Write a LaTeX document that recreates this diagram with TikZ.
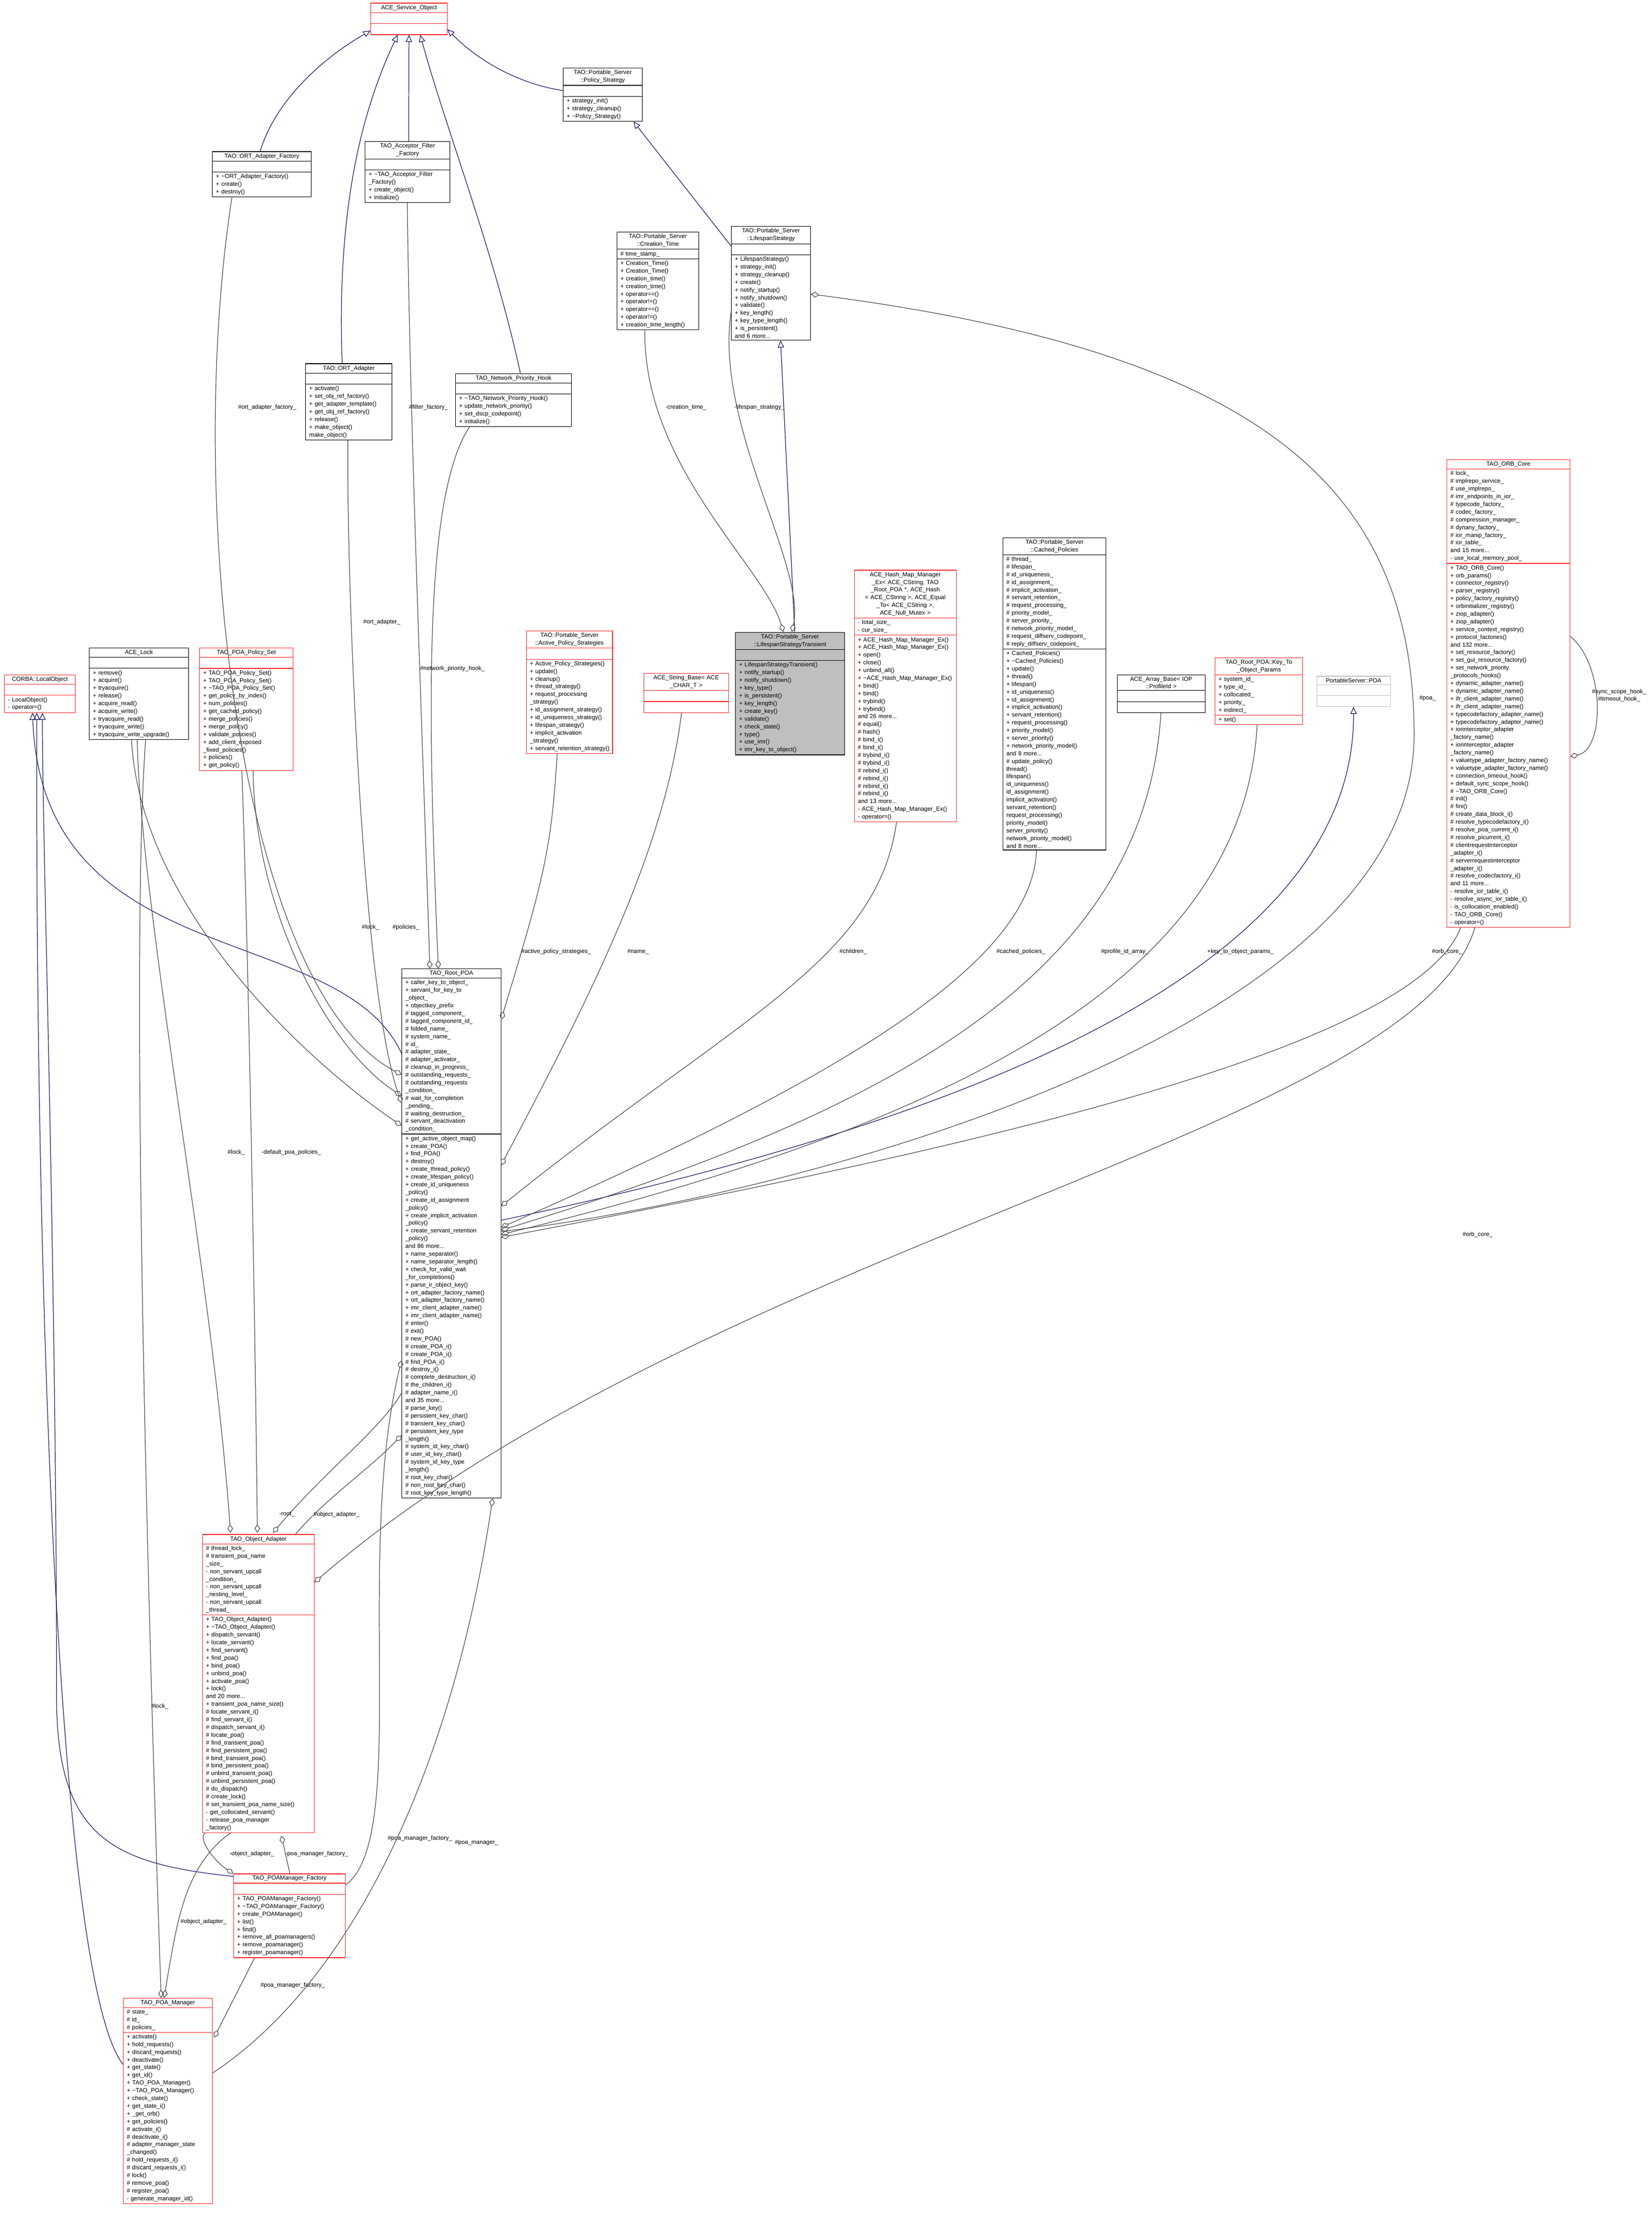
\documentclass[tikz,border=0pt]{standalone}
\usepackage{fontspec}
\newfontfamily\cf{Liberation Sans}
\usetikzlibrary{shapes.multipart,arrows.meta,calc}
\definecolor{navy}{RGB}{25,25,112}
\definecolor{lgrey}{RGB}{191,191,191}
\definecolor{boxred}{RGB}{255,40,40}
\hyphenpenalty=10000
\exhyphenpenalty=10000
\tikzset{
 cls/.style={draw, rectangle split, rectangle split parts=3, anchor=north west, inner xsep=2.5pt, inner ysep=1.2pt,
   font=\cf\fontsize{4.2}{5.45}\selectfont, align=left, text width=#1-5pt, line width=0.4pt},
 rc/.style={draw=boxred},
 bc/.style={draw=black},
 inh/.style={draw=navy, line width=0.45pt, -{Triangle[open,length=5pt,width=4.5pt]}},
 agg/.style={draw=black!70, line width=0.45pt, {Diamond[open,length=6pt,width=4pt]}-},
 lbl/.style={font=\cf\fontsize{4.2}{5.1}\selectfont, inner sep=0.5pt, align=center}
}
\newcommand\E{\rule{0pt}{5pt}}
\newcommand\cls[8]{\node[cls=#4pt,#5] (#1) at (#2,#3) {\hyphenpenalty=10000 {\centering #6\par}\nodepart{two}#7\nodepart{three}\hyphenpenalty=10000 #8};}
\begin{document}
\begin{tikzpicture}[x=1pt,y=-1pt]
\useasboundingbox (0,0) rectangle (1168,1570);
\fill[white] (0,0) rectangle (1168,1570);
% ---- nodes
\cls{aso}{262}{2}{54}{rc}{ACE\_Service\_Object}{\E}{\E}
\cls{ps}{398}{48}{56}{bc}{TAO::Portable\_Server\\::Policy\_Strategy}{\E}{+ strategy\_init()\\+ strategy\_cleanup()\\+ \textasciitilde Policy\_Strategy()}
\cls{ortf}{150}{107}{70}{bc}{TAO::ORT\_Adapter\_Factory}{\E}{+ \textasciitilde ORT\_Adapter\_Factory()\\+ create()\\+ destroy()}
\cls{aff}{258}{100}{60}{bc}{TAO\_Acceptor\_Filter\\\_Factory}{\E}{+ \textasciitilde TAO\_Acceptor\_Filter\\\_Factory()\\+ create\_object()\\+ initialize()}
\cls{ct}{436}{164}{58}{bc}{TAO::Portable\_Server\\::Creation\_Time}{\# time\_stamp\_}{+ Creation\_Time()\\+ Creation\_Time()\\+ creation\_time()\\+ creation\_time()\\+ operator==()\\+ operator!=()\\+ operator==()\\+ operator!=()\\+ creation\_time\_length()}
\cls{ls}{517}{160}{56}{bc}{TAO::Portable\_Server\\::LifespanStrategy}{\E}{+ LifespanStrategy()\\+ strategy\_init()\\+ strategy\_cleanup()\\+ create()\\+ notify\_startup()\\+ notify\_shutdown()\\+ validate()\\+ key\_length()\\+ key\_type\_length()\\+ is\_persistent()\\and 6 more...}
\cls{orta}{216}{257}{61}{bc}{TAO::ORT\_Adapter}{\E}{+ activate()\\+ set\_obj\_ref\_factory()\\+ get\_adapter\_template()\\+ get\_obj\_ref\_factory()\\+ release()\\+ make\_object()\\* make\_object()}
\cls{nph}{322}{264}{82}{bc}{TAO\_Network\_Priority\_Hook}{\E}{+ \textasciitilde TAO\_Network\_Priority\_Hook()\\+ update\_network\_priority()\\+ set\_dscp\_codepoint()\\+ initialize()}
\cls{orb}{1023}{325}{87}{rc}{TAO\_ORB\_Core}{\# lock\_\\\# implrepo\_service\_\\\# use\_implrepo\_\\\# imr\_endpoints\_in\_ior\_\\\# typecode\_factory\_\\\# codec\_factory\_\\\# compression\_manager\_\\\# dynany\_factory\_\\\# ior\_manip\_factory\_\\\# ior\_table\_\\and 15 more...\\- use\_local\_memory\_pool\_}{+ TAO\_ORB\_Core()\\+ orb\_params()\\+ connector\_registry()\\+ parser\_registry()\\+ policy\_factory\_registry()\\+ orbinitializer\_registry()\\+ ziop\_adapter()\\+ ziop\_adapter()\\+ service\_context\_registry()\\+ protocol\_factories()\\and 132 more...\\+ set\_resource\_factory()\\+ set\_gui\_resource\_factory()\\+ set\_network\_priority\\\_protocols\_hooks()\\+ dynamic\_adapter\_name()\\+ dynamic\_adapter\_name()\\+ ifr\_client\_adapter\_name()\\+ ifr\_client\_adapter\_name()\\+ typecodefactory\_adapter\_name()\\+ typecodefactory\_adapter\_name()\\+ iorinterceptor\_adapter\\\_factory\_name()\\+ iorinterceptor\_adapter\\\_factory\_name()\\+ valuetype\_adapter\_factory\_name()\\+ valuetype\_adapter\_factory\_name()\\+ connection\_timeout\_hook()\\+ default\_sync\_scope\_hook()\\\# \textasciitilde TAO\_ORB\_Core()\\\# init()\\\# fini()\\\# create\_data\_block\_i()\\\# resolve\_typecodefactory\_i()\\\# resolve\_poa\_current\_i()\\\# resolve\_picurrent\_i()\\\# clientrequestinterceptor\\\_adapter\_i()\\\# serverrequestinterceptor\\\_adapter\_i()\\\# resolve\_codecfactory\_i()\\and 11 more...\\- resolve\_ior\_table\_i()\\- resolve\_async\_ior\_table\_i()\\- is\_collocation\_enabled()\\- TAO\_ORB\_Core()\\- operator=()}
\cls{lst}{520}{447}{77}{bc,fill=lgrey}{TAO::Portable\_Server\\::LifespanStrategyTransient}{\E}{+ LifespanStrategyTransient()\\+ notify\_startup()\\+ notify\_shutdown()\\+ key\_type()\\+ is\_persistent()\\+ key\_length()\\+ create\_key()\\+ validate()\\+ check\_state()\\+ type()\\+ use\_imr()\\+ imr\_key\_to\_object()}
\cls{hm}{604}{403}{72}{rc}{ACE\_Hash\_Map\_Manager\\\_Ex< ACE\_CString, TAO\\\_Root\_POA *, ACE\_Hash\\< ACE\_CString >, ACE\_Equal\\\_To< ACE\_CString >, ACE\_Null\_Mutex >}{- total\_size\_\\- cur\_size\_}{+ ACE\_Hash\_Map\_Manager\_Ex()\\+ ACE\_Hash\_Map\_Manager\_Ex()\\+ open()\\+ close()\\+ unbind\_all()\\+ \textasciitilde ACE\_Hash\_Map\_Manager\_Ex()\\+ bind()\\+ bind()\\+ trybind()\\+ trybind()\\and 26 more...\\\# equal()\\\# hash()\\\# bind\_i()\\\# bind\_i()\\\# trybind\_i()\\\# trybind\_i()\\\# rebind\_i()\\\# rebind\_i()\\\# rebind\_i()\\\# rebind\_i()\\and 13 more...\\- ACE\_Hash\_Map\_Manager\_Ex()\\- operator=()}
\cls{cp}{709}{380}{73}{bc}{TAO::Portable\_Server\\::Cached\_Policies}{\# thread\_\\\# lifespan\_\\\# id\_uniqueness\_\\\# id\_assignment\_\\\# implicit\_activation\_\\\# servant\_retention\_\\\# request\_processing\_\\\# priority\_model\_\\\# server\_priority\_\\\# network\_priority\_model\_\\\# request\_diffserv\_codepoint\_\\\# reply\_diffserv\_codepoint\_}{+ Cached\_Policies()\\+ \textasciitilde Cached\_Policies()\\+ update()\\+ thread()\\+ lifespan()\\+ id\_uniqueness()\\+ id\_assignment()\\+ implicit\_activation()\\+ servant\_retention()\\+ request\_processing()\\+ priority\_model()\\+ server\_priority()\\+ network\_priority\_model()\\and 8 more...\\\# update\_policy()\\* thread()\\* lifespan()\\* id\_uniqueness()\\* id\_assignment()\\* implicit\_activation()\\* servant\_retention()\\* request\_processing()\\* priority\_model()\\* server\_priority()\\* network\_priority\_model()\\and 8 more...}
\cls{aps}{372}{446}{61}{rc}{TAO::Portable\_Server\\::Active\_Policy\_Strategies}{\E}{+ Active\_Policy\_Strategies()\\+ update()\\+ cleanup()\\+ thread\_strategy()\\+ request\_processing\\\_strategy()\\+ id\_assignment\_strategy()\\+ id\_uniqueness\_strategy()\\+ lifespan\_strategy()\\+ implicit\_activation\\\_strategy()\\\mbox{+ servant\_retention\_strategy()}}
\cls{sb}{455}{476}{60}{rc}{ACE\_String\_Base< ACE\\\_CHAR\_T >}{\E}{\E}
\cls{ab}{790}{477}{62}{bc}{ACE\_Array\_Base< IOP\\::ProfileId >}{\E}{\E}
\cls{kto}{859}{465}{62}{rc}{TAO\_Root\_POA::Key\_To\\\_Object\_Params}{+ system\_id\_\\+ type\_id\_\\+ collocated\_\\+ priority\_\\+ indirect\_}{+ set()}
\cls{pspoa}{931}{478}{52}{draw=lgrey}{PortableServer::POA}{\E}{\E}
\cls{clo}{3}{477}{50}{rc}{CORBA::LocalObject}{\E}{- LocalObject()\\- operator=()}
\cls{lock}{63}{458}{70}{bc}{ACE\_Lock}{\E}{+ remove()\\+ acquire()\\+ tryacquire()\\+ release()\\+ acquire\_read()\\+ acquire\_write()\\+ tryacquire\_read()\\+ tryacquire\_write()\\+ tryacquire\_write\_upgrade()}
\cls{pps}{141}{458}{66}{rc}{TAO\_POA\_Policy\_Set}{\E}{+ TAO\_POA\_Policy\_Set()\\+ TAO\_POA\_Policy\_Set()\\+ \textasciitilde TAO\_POA\_Policy\_Set()\\+ get\_policy\_by\_index()\\+ num\_policies()\\+ get\_cached\_policy()\\+ merge\_policies()\\+ merge\_policy()\\+ validate\_policies()\\+ add\_client\_exposed\\\_fixed\_policies()\\+ policies()\\+ get\_policy()}
\cls{rpoa}{284}{685}{70}{bc}{TAO\_Root\_POA}{+ caller\_key\_to\_object\_\\+ servant\_for\_key\_to\\\_object\_\\+ objectkey\_prefix\\\# tagged\_component\_\\\# tagged\_component\_id\_\\\# folded\_name\_\\\# system\_name\_\\\# id\_\\\# adapter\_state\_\\\# adapter\_activator\_\\\# cleanup\_in\_progress\_\\\# outstanding\_requests\_\\\# outstanding\_requests\\\_condition\_\\\# wait\_for\_completion\\\_pending\_\\\# waiting\_destruction\_\\\# servant\_deactivation\\\_condition\_}{+ get\_active\_object\_map()\\+ create\_POA()\\+ find\_POA()\\+ destroy()\\+ create\_thread\_policy()\\+ create\_lifespan\_policy()\\+ create\_id\_uniqueness\\\_policy()\\+ create\_id\_assignment\\\_policy()\\+ create\_implicit\_activation\\\_policy()\\+ create\_servant\_retention\\\_policy()\\and 86 more...\\+ name\_separator()\\+ name\_separator\_length()\\+ check\_for\_valid\_wait\\\_for\_completions()\\+ parse\_ir\_object\_key()\\+ ort\_adapter\_factory\_name()\\+ ort\_adapter\_factory\_name()\\+ imr\_client\_adapter\_name()\\+ imr\_client\_adapter\_name()\\\# enter()\\\# exit()\\\# new\_POA()\\\# create\_POA\_i()\\\# create\_POA\_i()\\\# find\_POA\_i()\\\# destroy\_i()\\\# complete\_destruction\_i()\\\# the\_children\_i()\\\# adapter\_name\_i()\\and 35 more...\\\# parse\_key()\\\# persistent\_key\_char()\\\# transient\_key\_char()\\\# persistent\_key\_type\\\_length()\\\# system\_id\_key\_char()\\\# user\_id\_key\_char()\\\# system\_id\_key\_type\\\_length()\\\# root\_key\_char()\\\# non\_root\_key\_char()\\\# root\_key\_type\_length()}
\cls{oa}{143}{1085}{79}{rc}{TAO\_Object\_Adapter}{\# thread\_lock\_\\\# transient\_poa\_name\\\_size\_\\- non\_servant\_upcall\\\_condition\_\\- non\_servant\_upcall\\\_nesting\_level\_\\- non\_servant\_upcall\\\_thread\_}{+ TAO\_Object\_Adapter()\\+ \textasciitilde TAO\_Object\_Adapter()\\+ dispatch\_servant()\\+ locate\_servant()\\+ find\_servant()\\+ find\_poa()\\+ bind\_poa()\\+ unbind\_poa()\\+ activate\_poa()\\+ lock()\\and 20 more...\\+ transient\_poa\_name\_size()\\\# locate\_servant\_i()\\\# find\_servant\_i()\\\# dispatch\_servant\_i()\\\# locate\_poa()\\\# find\_transient\_poa()\\\# find\_persistent\_poa()\\\# bind\_transient\_poa()\\\# bind\_persistent\_poa()\\\# unbind\_transient\_poa()\\\# unbind\_persistent\_poa()\\\# do\_dispatch()\\\# create\_lock()\\\# set\_transient\_poa\_name\_size()\\- get\_collocated\_servant()\\- release\_poa\_manager\\\_factory()}
\cls{pmf}{165}{1325}{79}{rc}{TAO\_POAManager\_Factory}{\E}{+ TAO\_POAManager\_Factory()\\+ \textasciitilde TAO\_POAManager\_Factory()\\+ create\_POAManager()\\+ list()\\+ find()\\+ remove\_all\_poamanagers()\\+ remove\_poamanager()\\+ register\_poamanager()}
\cls{pm}{87}{1413}{63}{rc}{TAO\_POA\_Manager}{\# state\_\\\# id\_\\\# policies\_}{+ activate()\\+ hold\_requests()\\+ discard\_requests()\\+ deactivate()\\+ get\_state()\\+ get\_id()\\+ TAO\_POA\_Manager()\\+ \textasciitilde TAO\_POA\_Manager()\\+ check\_state()\\+ get\_state\_i()\\+ \_get\_orb()\\+ get\_policies()\\\# activate\_i()\\\# deactivate\_i()\\\# adapter\_manager\_state\\\_changed()\\\# hold\_requests\_i()\\\# discard\_requests\_i()\\\# lock()\\\# remove\_poa()\\\# register\_poa()\\- generate\_manager\_id()}
% ---- inheritance
\draw[inh] ($(ortf.north west)+(34,0)$) .. controls (195,70) and (230,40) .. ($(aso.south west)+(0,-3)$);
\draw[inh] ($(orta.north west)+(26,0)$) .. controls (238,150) and (255,80) .. ($(aso.south)+(-8,0)$);
\draw[inh] ($(aff.north west)+(31,0)$) -- (aso.south);
\draw[inh] ($(nph.north west)+(46,0)$) .. controls (350,180) and (315,90) .. ($(aso.south)+(8,0)$);
\draw[inh] ($(ps.north west)+(0,16)$) .. controls (370,60) and (340,45) .. ($(aso.south east)+(0,-4)$);
\draw[inh] ($(ls.north west)+(0,14)$) -- ($(ps.south west)+(50,0)$);
\draw[inh] ($(lst.north west)+(42,0)$) -- ($(ls.south west)+(35,0)$);
\draw[inh] ($(rpoa.north east)+(0,178)$) .. controls (700,790) and (958,680) .. (pspoa.south);
\draw[inh] ($(rpoa.north west)+(0,60)$) .. controls (240,650) and (30,690) .. ($(clo.south west)+(20,0)$);
\draw[inh] ($(pmf.north west)+(0,2)$) .. controls (80,1318) and (40,1300) .. (40,1200) .. controls (40,900) and (30,600) .. ($(clo.south west)+(27,0)$);
\draw[inh] ($(pm.north west)+(0,47)$) .. controls (40,1400) and (25,900) .. ($(clo.south west)+(23,0)$);
% ---- aggregation
\draw[agg] ($(rpoa.north west)+(0,75)$) .. controls (170,700) and (130,360) .. ($(ortf.south west)+(14,0)$);
\node[lbl] at (189,288) {\#ort\_adapter\_factory\_};
\draw[agg] ($(rpoa.north west)+(0,95)$) .. controls (255,700) and (245,400) .. ($(orta.south west)+(30,0)$);
\node[lbl] at (270,440) {\#ort\_adapter\_};
\draw[agg] ($(rpoa.north west)+(20,0)$) .. controls (298,500) and (290,300) .. ($(aff.south west)+(30,0)$);
\node[lbl] at (303,288) {\#filter\_factory\_};
\draw[agg] ($(rpoa.north west)+(26,0)$) .. controls (302,500) and (300,350) .. ($(nph.south west)+(10,0)$);
\node[lbl] at (320,473) {\#network\_priority\_hook\_};
\draw[agg] ($(rpoa.north west)+(0,111)$) .. controls (230,760) and (100,650) .. ($(lock.south west)+(30,0)$);
\node[lbl] at (262,656) {\#lock\_};
\draw[agg] ($(rpoa.north west)+(0,90)$) .. controls (230,740) and (180,640) .. ($(pps.south west)+(38,0)$);
\node[lbl] at (287,656) {\#policies\_};
\draw[agg] ($(lst.north west)+(34,0)$) .. controls (540,400) and (455,330) .. ($(ct.south west)+(20,0)$);
\node[lbl] at (485,288) {-creation\_time\_};
\draw[agg] ($(lst.north west)+(40,0)$) .. controls (570,400) and (505,300) .. ($(ls.south west)+(0,-20)$);
\node[lbl] at (537,288) {-lifespan\_strategy\_};
\draw[agg] ($(ls.north east)+(0,48)$) .. controls (900,250) and (1000,350) .. (1000,520) .. controls (1000,720) and (600,840) .. ($(rpoa.north east)+(0,186)$);
\node[lbl,anchor=west] at (1003,494) {\#poa\_};
\draw[agg] ($(rpoa.north east)+(0,36)$) .. controls (385,620) and (390,600) .. ($(aps.south west)+(22,0)$);
\node[lbl,anchor=west] at (368,673) {\#active\_policy\_strategies\_};
\draw[agg] ($(rpoa.north east)+(0,139)$) .. controls (420,700) and (470,600) .. ($(sb.south west)+(27,0)$);
\node[lbl,anchor=west] at (443,673) {\#name\_};
\draw[agg] ($(rpoa.north east)+(0,168)$) .. controls (520,720) and (620,680) .. ($(hm.south west)+(30,0)$);
\node[lbl,anchor=west] at (593,673) {\#children\_};
\draw[agg] ($(rpoa.north east)+(0,183)$) .. controls (600,760) and (730,680) .. ($(cp.south west)+(24,0)$);
\node[lbl,anchor=west] at (704,673) {\#cached\_policies\_};
\draw[agg] ($(rpoa.north east)+(0,185)$) .. controls (650,780) and (810,680) .. ($(ab.south west)+(31,0)$);
\node[lbl,anchor=west] at (778,673) {\#profile\_id\_array\_};
\draw[agg] ($(rpoa.north east)+(0,188)$) .. controls (700,790) and (880,680) .. ($(kto.south west)+(30,0)$);
\node[lbl,anchor=west] at (853,673) {+key\_to\_object\_params\_};
\draw[agg] ($(rpoa.north east)+(0,190)$) .. controls (700,810) and (1000,740) .. ($(orb.south west)+(10,0)$);
\node[lbl,anchor=west] at (1012,673) {\#orb\_core\_};
\draw[agg] ($(oa.north east)+(0,34)$) .. controls (500,880) and (1000,800) .. ($(orb.south west)+(20,0)$);
\node[lbl] at (1045,873) {\#orb\_core\_};
\draw[agg] ($(orb.north east)+(0,210)$) .. controls (1135,530) and (1135,470) .. ($(orb.north east)+(0,125)$);
\node[lbl] at (1145,492) {\#sync\_scope\_hook\_\\\#timeout\_hook\_};
% oa relations
\draw[agg] ($(oa.north west)+(20,-1)$) .. controls (150,900) and (100,650) .. ($(lock.south west)+(34,0)$);
\node[lbl] at (167,815) {\#lock\_};
\draw[agg] ($(oa.north west)+(39,-1)$) .. controls (180,900) and (175,650) .. ($(pps.south west)+(30,0)$);
\node[lbl] at (206,815) {-default\_poa\_policies\_};
\draw[agg] ($(oa.north west)+(50,-1)$) .. controls (230,1040) and (270,1010) .. ($(rpoa.north west)+(0,300)$);
\node[lbl] at (203,1071) {-root\_};
\draw[agg] ($(rpoa.north west)+(0,330)$) .. controls (260,1040) and (230,1060) .. ($(oa.north west)+(66,0)$);
\node[lbl] at (238,1071) {\#object\_adapter\_};
\draw[agg] ($(rpoa.north west)+(0,277)$) .. controls (250,1100) and (290,1300) .. ($(pmf.north east)+(0,8)$);
\node[lbl] at (297,1300) {\#poa\_manager\_factory\_};
\draw[agg] ($(pmf.north west)+(0,0)$) .. controls (150,1315) and (140,1300) .. ($(oa.south west)+(2,0)$);
\node[lbl] at (178,1311) {-object\_adapter\_};
\draw[agg] ($(oa.south west)+(56,2)$) -- ($(pmf.north west)+(40,0)$);
\node[lbl] at (224,1311) {-poa\_manager\_factory\_};
% pm relations
\draw[agg] ($(pm.north west)+(27,0)$) .. controls (110,1300) and (90,700) .. ($(lock.south west)+(40,0)$);
\node[lbl] at (113,1207) {\#lock\_};
\draw[agg] ($(pm.north west)+(29,0)$) .. controls (125,1360) and (130,1320) .. ($(oa.south west)+(20,0)$);
\node[lbl] at (144,1359) {\#object\_adapter\_};
\draw[agg] ($(pm.north east)+(1,28)$) -- ($(pmf.south west)+(15,0)$);
\node[lbl] at (207,1404) {\#poa\_manager\_factory\_};
\draw[agg] ($(rpoa.south east)+(-6,0)$) .. controls (320,1250) and (250,1400) .. ($(pm.north east)+(0,53)$);
\node[lbl] at (337,1303) {\#poa\_manager\_};
\end{tikzpicture}
\end{document}
